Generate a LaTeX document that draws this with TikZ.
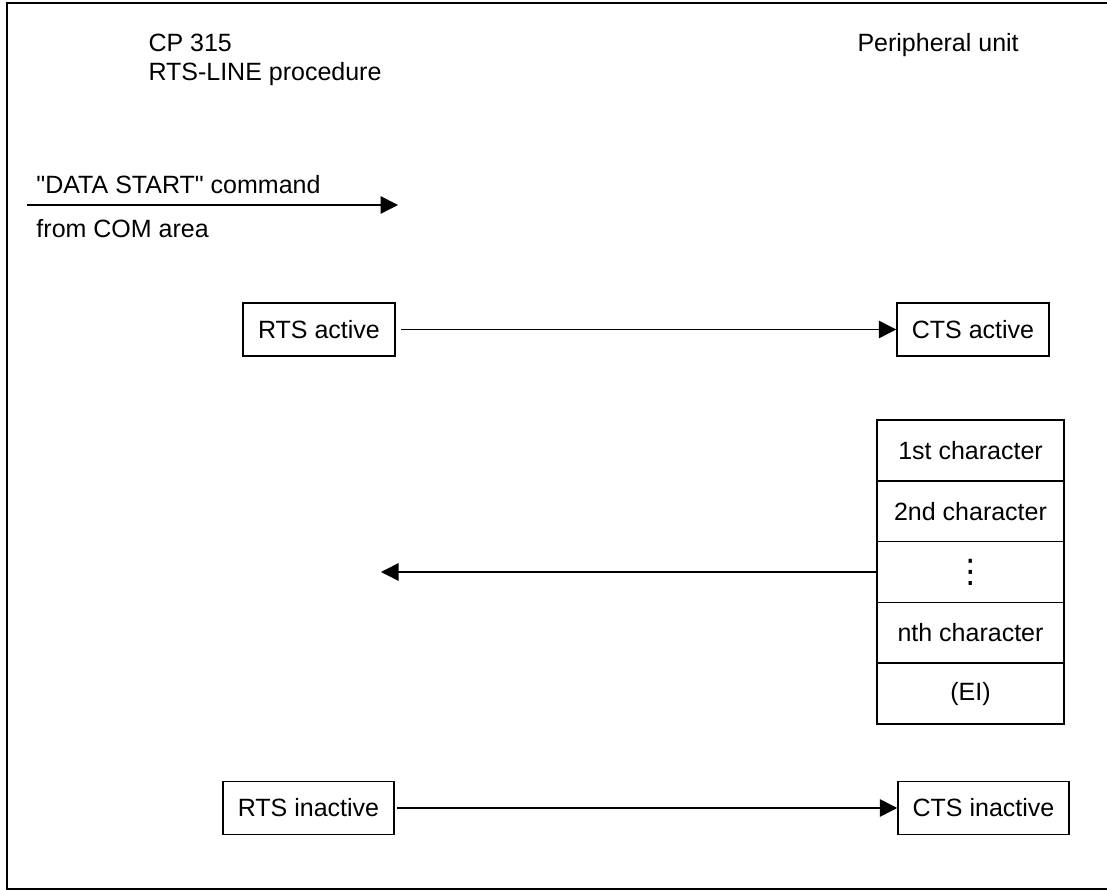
\documentclass[tikz,border=0pt]{standalone}
\usepackage{fontspec}
\setmainfont{Liberation Sans}
\newfontfamily\dotsfont{DejaVu Sans}
\usepackage{tikz}
\usetikzlibrary{arrows.meta}

\tikzset{
    sig/.style={line width=0.6pt,-{Triangle[length=7pt,width=7pt]}},
    box/.style={draw,line width=0.6pt,minimum height=21.2pt,inner sep=0pt},
    cell/.style={draw,line width=0.6pt,minimum width=74.8pt,minimum height=24.3pt,inner sep=0pt},
    txt/.style={anchor=base west,inner sep=0pt}
}

\begin{document}
\begin{tikzpicture}[x=0.4pt,y=-0.4pt,font=\fontsize{10}{12}\selectfont]

\useasboundingbox (0,0) rectangle (1107,890);
\clip (0,0) rectangle (1107,890);
\draw[line width=0.7pt] (7,3) rectangle (1120,889);

% headings
\node[txt] (cp) at (148,52) {CP 315};
\node[txt] (proc) at (148,81) {RTS-LINE procedure};
\node[txt] (pu) at (857,52) {Peripheral unit};

% start command
\coordinate (in) at (27,205);
\coordinate (out) at (398,205);
\draw[sig] (in) -- (out);
\node[txt] (cmd) at (36,194) {\textquotedbl DATA START\textquotedbl{} command};
\node[txt] (com) at (36,238) {from COM area};

% RTS / CTS handshake
\node[box,minimum width=60.8pt] (rtsa) at (319,329.5) {RTS active};
\node[box,minimum width=60.8pt] (ctsa) at (973,329.5) {CTS active};
\draw[sig] ([xshift=2pt]rtsa.east) -- (ctsa.west);

\node[box,minimum width=68.4pt] (rtsi) at (308.5,808) {RTS inactive};
\node[box,minimum width=68.4pt] (ctsi) at (983.5,808) {CTS inactive};
\draw[sig] ([xshift=1pt]rtsi.east) -- (ctsi.west);

% received characters
\foreach \n/\t [count=\i] in {c1/1st character,c2/2nd character,cd/{\dotsfont\fontsize{13}{13}\selectfont ⋮},cn/nth character,ei/(EI)}
    \node[cell] (\n) at (970.5,{389.6+60.8*\i}) {\t};

\coordinate (back) at (381,572);
\draw[sig] (cd.west) -- (back);

\end{tikzpicture}
\end{document}
